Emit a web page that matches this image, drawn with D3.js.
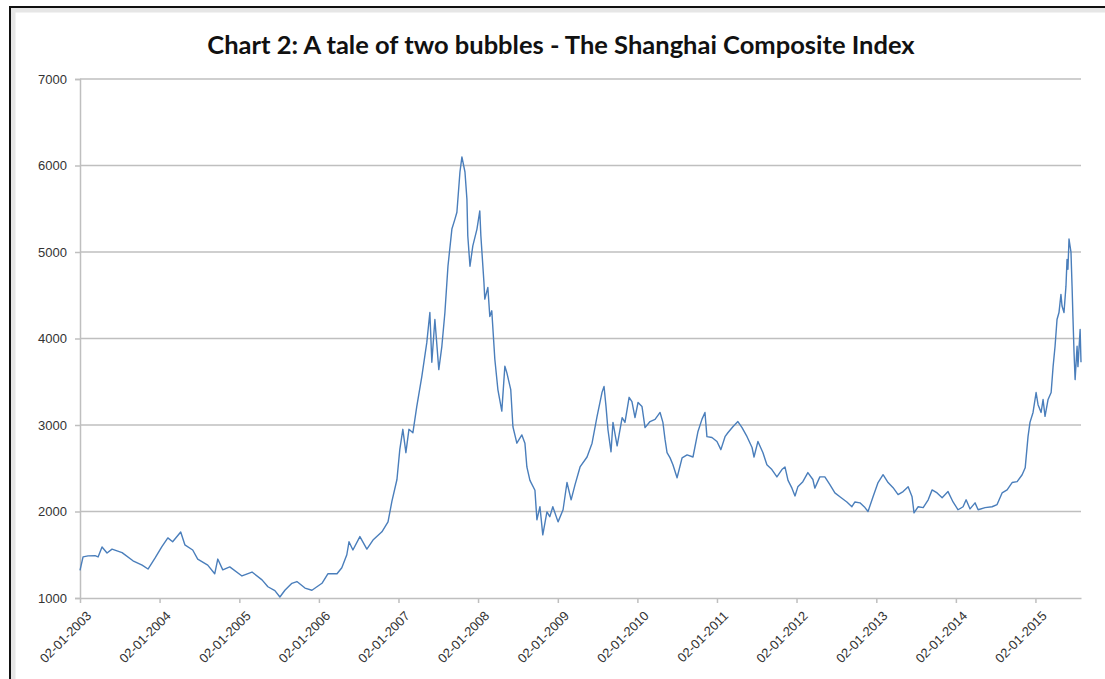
<!DOCTYPE html>
<html>
<head>
<meta charset="utf-8">
<script src="https://cdn.jsdelivr.net/npm/d3@7"></script>
<style>
  body { margin: 0; background: #fff; }
  svg { display: block; font-family: "Open Sans", sans-serif; }
</style>
</head>
<body>
<svg id="chart" width="1105" height="679"></svg>
<script>
// --- Data ---
const chartTitle = "Chart 2: A tale of two bubbles - The Shanghai Composite Index";

const dates = [
  "2003-01-02","2003-01-16","2003-02-08","2003-03-12","2003-03-26","2003-04-13","2003-05-06","2003-05-29","2003-07-14","2003-09-02","2003-10-14","2003-11-10","2003-12-12",
  "2004-01-12","2004-02-09","2004-03-02","2004-04-08","2004-04-27","2004-06-02","2004-06-25","2004-08-10","2004-09-11","2004-09-25","2004-10-18","2004-11-19",
  "2005-01-14","2005-03-01","2005-04-16","2005-05-13","2005-06-14","2005-07-07","2005-07-30","2005-08-31","2005-09-23","2005-10-30","2005-12-01",
  "2006-01-16","2006-02-12","2006-03-26","2006-04-17","2006-05-10","2006-05-20","2006-06-07","2006-07-09","2006-08-10","2006-09-07","2006-10-18","2006-11-15","2006-12-03","2006-12-26",
  "2007-01-08","2007-01-22","2007-02-05","2007-02-19","2007-03-09","2007-03-27","2007-04-19","2007-05-12","2007-05-26","2007-06-04","2007-06-18","2007-07-06","2007-07-20","2007-08-03","2007-08-17","2007-09-04","2007-09-18","2007-09-27","2007-10-11","2007-10-20","2007-11-03","2007-11-12","2007-11-16","2007-11-26","2007-12-09","2007-12-28",
  "2008-01-10","2008-01-15","2008-01-29","2008-02-02","2008-02-16","2008-02-25","2008-03-05","2008-03-19","2008-04-02","2008-04-20","2008-05-04","2008-05-13","2008-05-31","2008-06-10","2008-06-28","2008-07-21","2008-08-04","2008-08-13","2008-08-27","2008-09-19","2008-09-28","2008-10-12","2008-10-25","2008-11-13","2008-11-26","2008-12-10",
  "2009-01-03","2009-01-26","2009-02-13","2009-03-04","2009-03-22","2009-04-14","2009-05-16","2009-06-08","2009-07-01","2009-07-24","2009-08-02","2009-08-11","2009-08-20","2009-09-03","2009-09-12","2009-10-01","2009-10-24","2009-11-06","2009-11-25","2009-12-08","2009-12-22",
  "2010-01-05","2010-01-23","2010-02-06","2010-03-01","2010-03-24","2010-04-16","2010-04-29","2010-05-09","2010-05-18","2010-06-01","2010-06-14","2010-07-03","2010-07-26","2010-08-18","2010-09-14","2010-10-07","2010-10-25","2010-11-08","2010-11-17","2010-12-10",
  "2011-01-02","2011-01-20","2011-02-08","2011-02-21","2011-03-16","2011-04-08","2011-04-27","2011-05-20","2011-06-12","2011-06-21","2011-07-09","2011-08-01","2011-08-19","2011-09-11","2011-10-04","2011-10-27","2011-11-10","2011-11-24","2011-12-12","2011-12-26",
  "2012-01-08","2012-01-31","2012-02-23","2012-03-17","2012-03-26","2012-04-18","2012-05-11","2012-06-03","2012-06-26","2012-07-19","2012-08-20","2012-09-12","2012-09-26","2012-10-19","2012-11-11","2012-11-25","2012-12-18",
  "2013-01-10","2013-02-02","2013-02-25","2013-03-20","2013-04-12","2013-05-05","2013-05-28","2013-06-15","2013-06-24","2013-07-13","2013-08-05","2013-08-28","2013-09-15","2013-10-08","2013-10-31","2013-11-27","2013-12-20",
  "2014-01-12","2014-02-04","2014-02-18","2014-03-08","2014-03-31","2014-04-14","2014-05-16","2014-06-17","2014-07-10","2014-08-02","2014-08-25","2014-09-17","2014-10-10","2014-11-02","2014-11-16","2014-11-29","2014-12-08","2014-12-22",
  "2015-01-05","2015-01-14","2015-01-28","2015-02-06","2015-02-15","2015-03-01","2015-03-15","2015-03-24","2015-04-02","2015-04-11","2015-04-20","2015-04-29","2015-05-04","2015-05-13","2015-05-22","2015-05-27","2015-05-31","2015-06-05","2015-06-14","2015-06-19","2015-06-23","2015-06-28","2015-07-03","2015-07-12","2015-07-16","2015-07-26","2015-07-30"
];

const closes = [
  1320,1475,1487,1490,1475,1590,1520,1565,1525,1430,1380,1335,1460,
  1590,1695,1650,1763,1615,1555,1450,1380,1280,1450,1325,1360,
  1255,1300,1210,1130,1085,1012,1090,1170,1190,1115,1090,
  1170,1280,1280,1350,1500,1650,1555,1710,1565,1670,1765,1880,2120,2370,
  2715,2950,2680,2950,2910,3215,3560,3955,4300,3725,4220,3640,3910,4300,4835,5265,5380,5460,5925,6100,5925,5610,5185,4835,5070,5265,
  5475,5185,4650,4455,4590,4255,4320,3760,3410,3160,3680,3605,3410,2980,2790,2885,2790,2515,2360,2245,1905,2055,1730,1995,1940,2055,
  1880,2020,2335,2135,2310,2515,2630,2790,3100,3380,3445,3215,2945,2690,3030,2760,3085,3030,3320,3270,3085,
  3260,3215,2970,3040,3065,3145,3030,2830,2680,2620,2540,2390,2620,2655,2630,2925,3065,3145,2865,2855,
  2810,2715,2865,2910,2980,3040,2970,2865,2740,2630,2810,2680,2540,2485,2400,2485,2515,2360,2270,2180,
  2285,2345,2450,2370,2270,2400,2400,2310,2215,2170,2110,2055,2110,2100,2045,2000,2170,
  2335,2425,2335,2275,2195,2230,2285,2170,1985,2055,2045,2135,2250,2215,2160,2230,2110,
  2020,2055,2135,2030,2100,2020,2045,2055,2080,2215,2250,2335,2345,2425,2505,2865,3030,3145,
  3375,3235,3145,3295,3100,3295,3375,3675,3910,4220,4300,4510,4375,4300,4605,4915,4800,5150,5000,4605,4255,3840,3525,3910,3675,4105,3725
];

const yTickValues = [1000, 2000, 3000, 4000, 5000, 6000, 7000];
const xTickYears = [2003, 2004, 2005, 2006, 2007, 2008, 2009, 2010, 2011, 2012, 2013, 2014, 2015];

// --- Setup ---
const svg = d3.select("#chart");
const parse = d3.timeParse("%Y-%m-%d");
const series = dates.map((d, i) => ({ date: parse(d), value: closes[i] }));

const plot = { left: 80, right: 1081, top: 79, bottom: 598 };
const gridColor = "#bfbfbf";

const x = d3.scaleTime()
    .domain([parse("2003-01-02"), parse("2015-07-30")])
    .range([plot.left, plot.right]);
const y = d3.scaleLinear()
    .domain([1000, 7000])
    .range([plot.bottom, plot.top]);

// frame (black edge at top/left as in the screenshot)
svg.append("path")
    .attr("d", "M10,679V7H1105")
    .attr("fill", "none").attr("stroke", "#e6e6e6").attr("stroke-width", 5)
    .attr("transform", "translate(3,3)");
svg.append("path")
    .attr("d", "M10,679V7H1105")
    .attr("fill", "none").attr("stroke", "#111").attr("stroke-width", 2);

// --- Title ---
svg.append("text")
    .attr("x", 561).attr("y", 54)
    .attr("text-anchor", "middle")
    .style("font-family", "Lato, 'Open Sans', sans-serif")
    .style("font-weight", "bold")
    .style("font-size", "25.5px")
    .style("fill", "#111")
    .text(chartTitle);

// --- Gridlines ---
svg.append("g").selectAll("line")
    .data(yTickValues.filter(v => v > 1000))
    .join("line")
    .attr("x1", plot.left).attr("x2", plot.right)
    .attr("y1", d => y(d)).attr("y2", d => y(d))
    .attr("stroke", gridColor).attr("stroke-width", 1.5);

// --- Y axis ---
const yAxis = svg.append("g")
    .attr("transform", `translate(${plot.left},0)`)
    .call(d3.axisLeft(y).tickValues(yTickValues).tickFormat(d3.format("d")).tickSize(5).tickPadding(8));
yAxis.select(".domain").attr("stroke", gridColor).attr("stroke-width", 1.5);
yAxis.selectAll(".tick line").attr("stroke", gridColor).attr("stroke-width", 1.5);
yAxis.selectAll(".tick text")
    .style("font-size", "13px").style("fill", "#333");

// --- X axis ---
const xAxis = svg.append("g")
    .attr("transform", `translate(0,${plot.bottom})`)
    .call(d3.axisBottom(x)
        .tickValues(xTickYears.map(yr => new Date(yr, 0, 2)))
        .tickFormat(d3.timeFormat("%d-%m-%Y"))
        .tickSize(5)
        .tickSizeOuter(0));
xAxis.select(".domain").attr("stroke", gridColor).attr("stroke-width", 1.5);
xAxis.selectAll(".tick line").attr("stroke", gridColor).attr("stroke-width", 1.5);
xAxis.selectAll(".tick text")
    .style("font-size", "13px").style("fill", "#333")
    .attr("text-anchor", "end")
    .attr("dx", 0).attr("dy", 0)
    .attr("transform", "translate(6,13) rotate(-45)");

// --- Line ---
const line = d3.line()
    .x(d => x(d.date))
    .y(d => y(d.value));

svg.append("path")
    .datum(series)
    .attr("d", line)
    .attr("fill", "none")
    .attr("stroke", "#4a7ebb")
    .attr("stroke-width", 1.4)
    .attr("stroke-linejoin", "round");
</script>
</body>
</html>
